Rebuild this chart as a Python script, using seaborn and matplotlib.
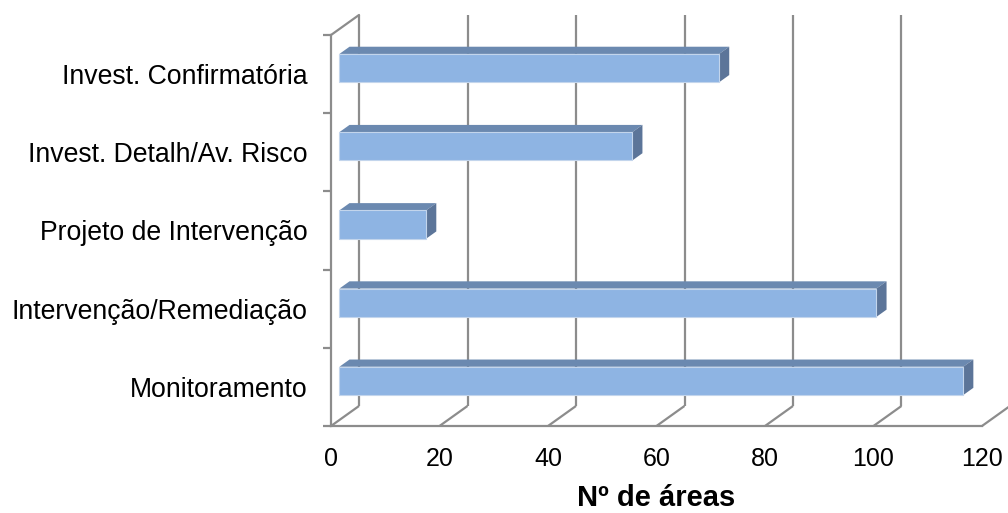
import matplotlib
matplotlib.use("Agg")
import matplotlib.pyplot as plt
import matplotlib.transforms as mtransforms
from matplotlib.patches import Polygon
import pandas as pd
import seaborn as sns

# Data
categories = [
    "Invest. Confirmatória",
    "Invest. Detalh/Av. Risco",
    "Projeto de Intervenção",
    "Intervenção/Remediação",
    "Monitoramento",
]
areas = [70, 54, 16, 99, 115]
x_ticks = [0, 20, 40, 60, 80, 100, 120]
x_label = "Nº de áreas"

# Style
FRONT = "#8EB4E3"
TOP = "#6B89B0"
SIDE = "#5C7599"
EDGE = "#C3D5EC"
GRID = "#8C8C8C"

# Oblique depth of the chart box, in data units (x values, category units)
DEPTH_X = 5.16
DEPTH_Y = 0.256
BAR_FRONT = 0.30   # depth fraction where the bar's front face sits
BAR_DEPTH = 0.36   # depth fraction occupied by the bar

sns.set_style("white")
plt.rcParams["font.family"] = ["Liberation Sans", "DejaVu Sans"]

fig = plt.figure(figsize=(10.08, 5.13), dpi=100)
ax = fig.add_axes([0.3284, 0.1696, 0.6458, 0.7622])
ax.patch.set_alpha(0)

df = pd.DataFrame({"categoria": categories, "areas": areas})
sns.barplot(data=df, x="areas", y="categoria", orient="h", color=FRONT,
            saturation=1, width=0.362, ax=ax)

n = len(categories)
ax.set_xlim(x_ticks[0], x_ticks[-1])
ax.set_ylim(n - 0.5, -0.5)

# Back wall and floor lines
y_front = n - 0.5
y_top = -0.5
for t in x_ticks:
    ax.plot([t, t + DEPTH_X], [y_front, y_front - DEPTH_Y], color=GRID,
            lw=1.6, clip_on=False, zorder=1, solid_capstyle="butt")
    ax.plot([t + DEPTH_X, t + DEPTH_X], [y_front - DEPTH_Y, y_top - DEPTH_Y],
            color=GRID, lw=1.6, clip_on=False, zorder=1, solid_capstyle="butt")
ax.plot([0, DEPTH_X], [y_top, y_top - DEPTH_Y], color=GRID, lw=1.6,
        clip_on=False, zorder=1)

# Shade the bars as 3-D blocks
bar_shift = mtransforms.Affine2D().translate(BAR_FRONT * DEPTH_X,
                                             -BAR_FRONT * DEPTH_Y) + ax.transData
bdx = BAR_DEPTH * DEPTH_X
bdy = BAR_DEPTH * DEPTH_Y
for p in list(ax.patches):
    x0, y0, w, h = p.get_x(), p.get_y(), p.get_width(), p.get_height()
    p.set_transform(bar_shift)
    p.set_edgecolor(EDGE)
    p.set_linewidth(0.8)
    p.set_zorder(4)
    top = Polygon([(x0, y0), (x0 + w, y0), (x0 + w + bdx, y0 - bdy),
                   (x0 + bdx, y0 - bdy)], closed=True, facecolor=TOP,
                  edgecolor="none", transform=bar_shift, zorder=3)
    side = Polygon([(x0 + w, y0), (x0 + w + bdx, y0 - bdy),
                    (x0 + w + bdx, y0 + h - bdy), (x0 + w, y0 + h)],
                   closed=True, facecolor=SIDE, edgecolor="none",
                   transform=bar_shift, zorder=3)
    ax.add_patch(top)
    ax.add_patch(side)

# Axes
ax.grid(False)
for s in ("top", "right"):
    ax.spines[s].set_visible(False)
for s in ("left", "bottom"):
    ax.spines[s].set_color(GRID)
    ax.spines[s].set_linewidth(1.6)
    ax.spines[s].set_zorder(2)

ax.set_xticks(x_ticks)
ax.set_xticklabels([str(t) for t in x_ticks])
ax.tick_params(axis="x", which="major", direction="out", length=5.8,
               width=1.6, color=GRID, pad=9, labelsize=18, labelcolor="black")
ax.set_yticks([i - 0.5 for i in range(n + 1)], minor=True)
ax.tick_params(axis="y", which="minor", direction="out", length=5.8,
               width=1.6, color=GRID, left=True)
ax.tick_params(axis="y", which="major", length=0, pad=17, labelsize=19.2,
               labelcolor="black")

ax.set_ylabel("")
ax.set_xlabel(x_label, fontsize=21, fontweight="bold", labelpad=10,
              color="black")

fig.savefig("out.png", dpi=100)
